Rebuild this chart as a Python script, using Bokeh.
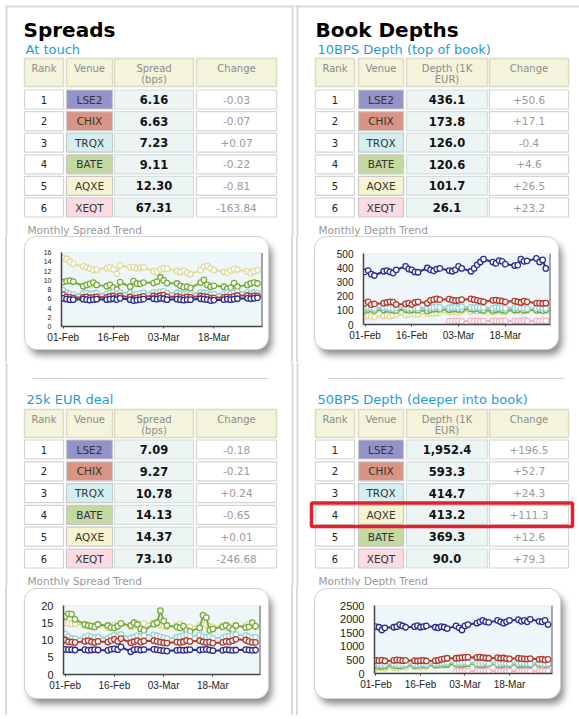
from bokeh.plotting import figure
from bokeh.models import Range1d, Span, FixedTicker, ColumnDataSource, Spacer
from bokeh.layouts import row, column
from bokeh.embed import file_html
from bokeh.resources import INLINE
from bokeh.core.properties import value

NAN = float("nan")
FONT = "DejaVu Sans"
AXFONT = "Liberation Sans"

# ---------------- table data ----------------
touch_venues = ["LSE2", "CHIX", "TRQX", "BATE", "AQXE", "XEQT"]
touch_spread = [6.16, 6.63, 7.23, 9.11, 12.30, 67.31]
touch_change = [-0.03, -0.07, 0.07, -0.22, -0.81, -163.84]

deal_venues = ["LSE2", "CHIX", "TRQX", "BATE", "AQXE", "XEQT"]
deal_spread = [7.09, 9.27, 10.78, 14.13, 14.37, 73.10]
deal_change = [-0.18, -0.21, 0.24, -0.65, 0.01, -246.68]

d10_venues = ["LSE2", "CHIX", "TRQX", "BATE", "AQXE", "XEQT"]
d10_depth = [436.1, 173.8, 126.0, 120.6, 101.7, 26.1]
d10_change = [50.6, 17.1, -0.4, 4.6, 26.5, 23.2]

d50_venues = ["LSE2", "CHIX", "TRQX", "AQXE", "BATE", "XEQT"]
d50_depth = [1952.4, 593.3, 414.7, 413.2, 369.3, 90.0]
d50_change = [196.5, 52.7, 24.3, 111.3, 12.6, 79.3]
d50_highlight = 3

spread_headers = ["Rank", "Venue", "Spread\n(bps)", "Change"]
depth_headers = ["Rank", "Venue", "Depth (1K\nEUR)", "Change"]

# ---------------- trend data (day offsets from 01-Feb, trading days) ----------------
days = [0, 1, 2, 3, 6, 7, 8, 9, 10, 13, 14, 15, 16, 17, 20, 21, 22, 23, 24, 27,
        28, 29, 30, 31, 34, 35, 36, 37, 38, 41, 42, 43, 44, 45, 48, 49, 50, 51, 52,
        55, 56, 57, 58]
tick_days = [0, 15, 30, 45]
tick_labels = ["01-Feb", "16-Feb", "03-Mar", "18-Mar"]

touch_lse2 = [6.1, 5.9, 5.8, 5.8, 5.9, 5.8, 5.7, 5.8, 5.9, 5.8, 5.9, 6.0, 5.8, 6.1, 5.8, 5.6, 5.7, 5.8, 5.9, 6.0,
              5.9, 6.1, 6.0, 5.8, 5.9, 5.8, 5.7, 5.8, 5.8, 6.0, 5.9, 5.8, 5.6, 5.7, 5.8, 5.9, 5.8, 5.9, 6.0,
              6.1, 6.0, 6.1, 6.2]
touch_chix = [6.9, 6.4, 6.3, 6.2, 6.3, 6.4, 6.2, 6.3, 6.4, 6.3, 6.5, 6.6, 6.3, 6.6, 6.4, 6.0, 6.2, 6.3, 6.5, 6.6,
              6.4, 6.7, 6.8, 6.4, 6.5, 6.3, 6.2, 6.4, 6.3, 6.6, 6.5, 6.4, 6.1, 6.2, 6.3, 6.4, 6.3, 6.5, 6.7,
              6.7, 6.5, 6.6, 6.6]
touch_trqx = [7.8, 7.3, 7.0, 6.9, 7.1, 7.2, 7.0, 7.1, 7.2, 7.0, 7.3, 7.4, 7.1, 7.4, 7.2, 6.8, 7.0, 7.1, 7.3, 7.4,
              7.2, 7.5, 7.6, 7.2, 7.3, 7.1, 6.9, 7.1, 7.0, 7.4, 7.3, 7.2, 6.9, 7.0, 7.1, 7.2, 7.1, 7.3, 7.5,
              7.4, 7.2, 7.3, 7.2]
touch_bate = [9.6, 9.8, 9.9, 9.7, 8.7, 9.0, 9.2, 9.5, 9.0, 8.7, 9.0, 8.4, 8.0, 9.6, 8.6, 9.8, 9.3, 9.2, 9.5, 9.4,
              9.7, 10.6, 10.0, 9.4, 9.3, 8.8, 8.5, 8.6, 8.3, 9.5, 10.1, 9.0, 8.6, 8.8, 8.6, 8.2, 8.4, 9.4, 8.6,
              9.0, 9.3, 9.5, 9.3]
touch_aqxe = [14.8, 14.6, 14.0, 13.5, 13.0, 12.8, 12.5, 12.2, 12.3, 12.6, 12.8, 12.4, 11.4, 13.2, 12.8, 12.9, 12.6,
              12.7, 12.8, 11.9, 11.8, 12.3, 12.6, 12.5, 12.0, 11.8, 12.1, 11.6, 11.3, 12.2, 12.9, 13.1, 12.6,
              12.2, 11.8, 11.6, 12.1, 12.4, 12.3, 11.9, 11.6, 11.9, 12.2]

d10_lse2 = [370, 380, 355, 345, 375, 380, 370, 362, 385, 410, 390, 385, 370, 368, 398, 385, 378, 390, 395, 380,
            375, 385, 410, 395, 375, 395, 420, 440, 460, 440, 430, 450, 445, 425, 415, 418, 460, 445, 448,
            465, 440, 455, 395]
d10_chix = [150, 160, 140, 145, 150, 155, 160, 158, 140, 145, 150, 140, 155, 160, 150, 170, 175, 180, 175, 178,
            172, 168, 170, 175, 180, 175, 170, 165, 160, 170, 172, 168, 165, 160, 165, 160, 155, 165, 160,
            150, 150, 148, 150]
d10_trqx = [115, 120, 118, 112, 118, 120, 115, 112, 118, 120, 115, 112, 118, 115, 118, 122, 120, 125, 120, 118,
            120, 122, 118, 125, 120, 118, 122, 120, 118, 115, 120, 118, 116, 114, 118, 120, 116, 114, 112,
            115, 118, 116, 114]
d10_bate = [100, 105, 110, 98, 102, 108, 105, 100, 98, 105, 100, 102, 106, 100, 95, 104, 108, 110, 106, 104,
            108, 110, 105, 106, 110, 108, 112, 104, 100, 98, 104, 108, 102, 98, 102, 104, 108, 100, 104,
            100, 104, 98, 102]
d10_aqxe = [55, 60, 58, 52, 60, 62, 58, 65, 70, 68, 72, 75, 70, 72, 75, 80, 78, 82, 85, 88,
            90, 92, 88, 95, 92, 98, 95, 100, 92, 88, 94, 96, 90, 92, 95, 98, 92, 96, 100,
            98, 96, 100, 102]
d10_xeqt = [NAN] * 19 + [22, 25, 24, 26, 23, 25, 24, 26, 22, 24, 26, 25, 23, 24, 27, 25, 24, 26, 28, 25,
                         26, 24, 27, 26]

deal_lse2 = [7.3, 7.2, 7.2, 7.1, 7.2, 7.0, 7.1, 7.2, 7.1, 7.0, 7.3, 7.4, 7.2, 8.0, 6.6, 7.2, 7.3, 7.1, 7.2, 7.3,
             7.2, 7.0, 6.9, 6.8, 7.0, 7.1, 7.0, 7.1, 7.2, 7.1, 7.2, 7.3, 7.1, 6.9, 7.0, 7.2, 7.1, 7.0, 7.1,
             7.2, 7.1, 7.0, 7.1]
deal_chix = [10.0, 9.5, 9.4, 9.3, 9.6, 9.8, 9.5, 9.3, 9.6, 9.4, 9.8, 10.2, 9.6, 10.4, 9.2, 9.5, 9.8, 9.4, 9.7,
             9.8, 9.6, 9.4, 9.2, 9.1, 9.4, 9.3, 9.5, 9.8, 9.6, 9.8, 9.5, 9.3, 9.4, 9.1, 9.3, 9.6, 9.5, 9.8,
             10.2, 10.0, 9.6, 9.3, 9.3]
deal_trqx = [11.8, 11.0, 10.5, 10.4, 10.8, 11.2, 10.9, 10.6, 10.8, 10.5, 11.0, 11.4, 11.0, 11.6, 10.6, 10.8,
             11.2, 10.9, 11.3, 11.5, 11.2, 10.9, 10.6, 10.4, 10.8, 10.9, 11.2, 11.5, 11.1, 11.4, 11.0, 10.8,
             10.9, 10.5, 10.7, 11.0, 11.1, 11.4, 11.6, 11.3, 11.0, 10.7, 10.8]
deal_bate = [16.8, 17.6, 17.5, 16.0, 14.5, 14.2, 14.0, 13.8, 14.5, 14.2, 13.6, 13.5, 14.0, 14.8, 14.2, 15.0,
             14.5, 13.2, 12.8, 14.6, 15.0, 18.5, 15.5, 14.2, 13.8, 13.5, 14.0, 12.8, 12.5, 13.5, 17.2, 16.5,
             12.8, 13.2, 13.8, 14.2, 13.5, 13.0, 14.2, 13.6, 13.8, 15.0, 14.0]
deal_aqxe = [15.0, 14.8, 14.6, 14.8, 14.2, 14.0, 13.8, 14.2, 14.5, 13.6, 13.8, 14.4, 14.0, 14.6, 13.8, 14.2,
             14.6, 14.4, 14.8, 15.0, 14.6, 14.2, 14.0, 13.8, 14.2, 14.6, 14.0, 13.6, 13.8, 14.2, 14.6, 14.4,
             14.0, 13.8, 14.2, 14.4, 14.0, 13.6, 13.9, 14.2, 14.6, 14.2, 13.8]

d50_lse2 = [1720, 1700, 1600, 1680, 1700, 1720, 1800, 1750, 1700, 1720, 1760, 1700, 1720, 1750, 1700, 1680,
            1720, 1700, 1650, 1750, 1680, 1600, 1750, 1800, 1850, 1900, 1950, 1900, 1880, 1950, 1900, 1850,
            1900, 1950, 1980, 1920, 1950, 1900, 1990, 1920, 1900, 1950, 1800]
d50_chix = [480, 470, 490, 460, 480, 500, 490, 470, 480, 470, 460, 470, 480, 460, 470, 480, 520, 540, 560, 560,
            570, 580, 590, 600, 590, 600, 580, 570, 560, 580, 560, 570, 550, 540, 560, 550, 540, 530, 550,
            520, 530, 500, 520]
d50_trqx = [330, 340, 320, 330, 340, 330, 320, 330, 350, 340, 330, 350, 360, 340, 360, 370, 380, 390, 400, 380,
            390, 400, 410, 400, 380, 370, 390, 400, 380, 370, 380, 390, 380, 370, 380, 390, 380, 370, 360,
            380, 370, 360, 370]
d50_bate = [280, 270, 260, 270, 300, 290, 280, 300, 310, 290, 300, 310, 320, 300, 310, 330, 350, 340, 330, 350,
            340, 330, 350, 360, 340, 330, 320, 340, 350, 330, 320, 340, 350, 330, 320, 330, 340, 330, 320,
            340, 350, 330, 340]
d50_aqxe = [200, 220, 210, 190, 230, 220, 240, 250, 230, 240, 260, 250, 270, 260, 280, 290, 300, 310, 320, 330,
            340, 350, 360, 370, 380, 360, 370, 390, 380, 370, 380, 390, 400, 380, 390, 400, 380, 410, 400,
            390, 410, 400, 410]
d50_xeqt = [NAN] * 19 + [80, 85, 90, 88, 92, 86, 90, 94, 88, 90, 92, 88, 86, 90, 94, 90, 88, 92, 90, 86,
                         90, 94, 92, 90]

SWATCH = {"LSE2": "#9393c9", "CHIX": "#d99483", "TRQX": "#d5eef0", "BATE": "#c4d9a2",
          "AQXE": "#f7f4d2", "XEQT": "#fcdbe2"}
LINE = {"LSE2": "#2e2e92", "CHIX": "#b53a2c", "TRQX": "#9ad3d8", "BATE": "#78ad3c",
        "AQXE": "#e0dc9c", "XEQT": "#f2b6c4"}
DRAW_ORDER = ["XEQT", "AQXE", "BATE", "TRQX", "CHIX", "LSE2"]
BORDER = "#dadada"


def txt(p, xs, ys, texts, size, color, bold=False, align="center", font=FONT):
    p.text(x=xs, y=ys, text=texts, text_font=value(font), text_font_size=value(f"{size}px"),
           text_color=color, text_font_style="bold" if bold else "normal",
           text_align=align, text_baseline="middle")


def table_fig(x0, y0, w, h):
    p = figure(width=w, height=h, x_range=Range1d(x0, x0 + w), y_range=Range1d(y0 + h, y0),
               x_axis_type=None, y_axis_type=None, output_backend="svg", toolbar_location=None,
               min_border=0, outline_line_color=None, border_fill_color="white",
               background_fill_color="white", frame_align=False)
    return p


def draw_table(p, cols, head_top, row_c0, pitch, headers, venues, vals, chgs, vfmt, cfmt, highlight=None):
    L = [c[0] for c in cols]
    R = [c[1] for c in cols]
    p.quad(left=L, right=R, top=[head_top] * 4, bottom=[head_top + 28] * 4,
           fill_color="#f4f3dc", line_color="#dcdbc2", line_width=1.5)
    for j, hd in enumerate(headers):
        parts = hd.split("\n")
        xc = (L[j] + R[j]) / 2
        txt(p, [xc] * len(parts), [head_top + 10 + 11 * k for k in range(len(parts))], parts, 10, "#8c8c8c")
    n = len(venues)
    cy = [row_c0 + pitch * i for i in range(n)]
    top = [c - 9.5 for c in cy]
    bot = [c + 9.5 for c in cy]
    fills = [["white"] * n, [SWATCH[v] for v in venues], ["#ecf4f4"] * n, ["white"] * n]
    lines = ["#d4d4d4", "#c8c8c8", "#d3dede", "#d4d4d4"]
    for j in range(4):
        p.quad(left=[L[j]] * n, right=[R[j]] * n, top=top, bottom=bot,
               fill_color=fills[j], line_color=lines[j], line_width=1.2)
    xc = [(L[j] + R[j]) / 2 for j in range(4)]
    txt(p, [xc[0]] * n, cy, [str(i + 1) for i in range(n)], 10, "#222222")
    txt(p, [xc[1]] * n, cy, venues, 10.5, "#333333")
    txt(p, [xc[2]] * n, cy, [vfmt(v) for v in vals], 11.5, "#111111", bold=True)
    txt(p, [xc[3]] * n, cy, [cfmt(v) for v in chgs], 10.5, "#9a9a9a")
    if highlight is not None:
        c = cy[highlight]
        p.quad(left=[L[0] - 4], right=[R[3] + 4], top=[c - 12], bottom=[c + 11.5],
               fill_color=None, line_color="#e3202b", line_width=3.5)


BOX_STYLE = {"border-radius": "12px", "overflow": "hidden",
             "box-shadow": "0 0 0 1px #d2d2d2, 4px 6px 7px rgba(0,0,0,0.45)"}


def chart_fig(box, frame, ymax, ystep, ysize, series):
    bl, bt, br, bb = box
    fl, ft, fr, fb = frame
    p = figure(width=br - bl, height=bb - bt, x_range=Range1d(-0.5, 59.5), y_range=Range1d(0, ymax),
               output_backend="svg", toolbar_location=None,
               min_border_left=fl - bl, min_border_right=br - fr,
               min_border_top=ft - bt, min_border_bottom=bb - fb,
               outline_line_color=None, background_fill_color="#eef6f9", border_fill_color="white",
               frame_align=False, styles=BOX_STYLE)
    p.grid.visible = False

    for name in DRAW_ORDER:
        if name not in series:
            continue
        src = ColumnDataSource(dict(x=days, y=series[name]))
        p.line("x", "y", source=src, line_color=LINE[name], line_width=2)
        p.scatter("x", "y", source=src, size=5.5, marker="circle", fill_color="white",
                  line_color=LINE[name], line_width=1.3)

    p.add_layout(Span(location=ymax, dimension="width", line_color="#8fcfe4", line_dash="1 2",
                      line_width=1))
    p.add_layout(Span(location=59.5, dimension="height", line_color="#555555", line_width=2))

    yax = p.yaxis[0]
    yax.ticker = FixedTicker(ticks=list(range(0, ymax + 1, ystep)))
    yax.major_label_text_font = AXFONT
    yax.major_label_text_font_size = f"{ysize}px"
    yax.major_label_text_color = "#222222"
    yax.axis_line_color = "#444444"
    yax.axis_line_width = 1.5
    yax.major_tick_line_color = None
    yax.minor_tick_line_color = None
    yax.major_label_standoff = 4

    xax = p.xaxis[0]
    xax.ticker = FixedTicker(ticks=tick_days)
    xax.major_label_overrides = {d: lab for d, lab in zip(tick_days, tick_labels)}
    xax.major_label_text_font = AXFONT
    xax.major_label_text_font_size = "10px"
    xax.major_label_text_color = "#222222"
    xax.axis_line_color = "#444444"
    xax.axis_line_width = 1.5
    xax.major_tick_line_color = "#444444"
    xax.major_tick_in = 0
    xax.major_tick_out = 2
    xax.minor_tick_line_color = None
    xax.major_label_standoff = 3
    return p


def gap(w, h, color=None):
    if color is None:
        return Spacer(width=w, height=h)
    return Spacer(width=w, height=h, styles={"background-color": color})


def chart_strip(x0, x1, y0, y1, box, chart, vlines):
    """Row holding the rounded chart box plus panel border lines."""
    bl, bt, br, bb = box
    items = []
    cur = x0
    marks = sorted([(v, "line") for v in vlines] + [(bl, "chart")])
    for pos, kind in marks:
        if pos > cur:
            items.append(gap(pos - cur, y1 - y0))
        if kind == "line":
            items.append(gap(2, y1 - y0, BORDER))
            cur = pos + 2
        else:
            items.append(column(gap(br - bl, bt - y0), chart, gap(br - bl, y1 - bb), spacing=0))
            cur = br
    if x1 > cur:
        items.append(gap(x1 - cur, y1 - y0))
    return row(*items, spacing=0)


fmt2 = lambda v: f"{v:,.2f}"
fmt2s = lambda v: f"{v:+.2f}"
fmt1 = lambda v: f"{v:,.1f}"
fmt1s = lambda v: f"{v:+.1f}"

LX0, LW = 0, 294
RX0, RW = 294, 285
Y_T, H_T = 0, 236
Y_C1, H_C1 = 236, 126
Y_B, H_B = 362, 224
Y_C2, H_C2 = 586, 129

colsL = [(24, 63), (66, 112), (114, 193), (196, 276)]
colsR = [(315, 354), (358, 403), (406, 487), (489, 568)]

# ---- top-left: Spreads / At touch ----
tl = table_fig(LX0, Y_T, LW, H_T)
tl.quad(left=[5], right=[LX0 + LW], top=[5], bottom=[7], fill_color=BORDER, line_color=None)
tl.quad(left=[5, 291], right=[7, 293], top=[5, 5], bottom=[Y_T + H_T] * 2,
        fill_color=BORDER, line_color=None)
txt(tl, [23], [29], ["Spreads"], 20, "#000000", bold=True, align="left")
txt(tl, [25], [49], ["At touch"], 13, "#1b9ddb", align="left")
draw_table(tl, colsL, 58, 99, 21.6, spread_headers, touch_venues, touch_spread, touch_change, fmt2, fmt2s)
txt(tl, [27], [229], ["Monthly Spread Trend"], 10.5, "#999999", align="left")

# ---- top-right: Book Depths / 10BPS ----
tr = table_fig(RX0, Y_T, RW, H_T)
tr.quad(left=[RX0], right=[RX0 + RW], top=[5], bottom=[7], fill_color=BORDER, line_color=None)
tr.quad(left=[296], right=[298], top=[5], bottom=[Y_T + H_T], fill_color=BORDER, line_color=None)
txt(tr, [315], [29], ["Book Depths"], 20, "#000000", bold=True, align="left")
txt(tr, [317], [49], ["10BPS Depth (top of book)"], 13, "#1b9ddb", align="left")
draw_table(tr, colsR, 58, 99, 21.6, depth_headers, d10_venues, d10_depth, d10_change, fmt1, fmt1s)
txt(tr, [318], [229], ["Monthly Depth Trend"], 10.5, "#999999", align="left")

# ---- top charts ----
box_tl = (25, 237, 268, 349)
box_tr = (315, 237, 558, 349)
tlc = chart_fig(box_tl, (61, 252, 262, 326), 16, 2, 7,
                {"LSE2": touch_lse2, "CHIX": touch_chix, "TRQX": touch_trqx, "BATE": touch_bate,
                 "AQXE": touch_aqxe})
trc = chart_fig(box_tr, (363, 253, 550, 324), 500, 100, 10,
                {"LSE2": d10_lse2, "CHIX": d10_chix, "TRQX": d10_trqx, "BATE": d10_bate,
                 "AQXE": d10_aqxe, "XEQT": d10_xeqt})

# ---- bottom-left: 25k EUR deal ----
bl = table_fig(LX0, Y_B, LW, H_B)
bl.quad(left=[5, 291], right=[7, 293], top=[Y_B, Y_B], bottom=[Y_B + H_B] * 2,
        fill_color=BORDER, line_color=None)
bl.segment(x0=[32], y0=[378], x1=[268], y1=[378], line_color="#cfcfcf", line_width=1.2)
txt(bl, [26], [399], ["25k EUR deal"], 13, "#1b9ddb", align="left")
draw_table(bl, colsL, 409, 449, 21.8, spread_headers, deal_venues, deal_spread, deal_change, fmt2, fmt2s)
txt(bl, [27], [580], ["Monthly Spread Trend"], 10.5, "#999999", align="left")

# ---- bottom-right: 50BPS ----
br = table_fig(RX0, Y_B, RW, H_B)
br.quad(left=[296], right=[298], top=[Y_B], bottom=[Y_B + H_B], fill_color=BORDER, line_color=None)
br.segment(x0=[327], y0=[378], x1=[563], y1=[378], line_color="#cfcfcf", line_width=1.2)
txt(br, [317], [399], ["50BPS Depth (deeper into book)"], 13, "#1b9ddb", align="left")
draw_table(br, colsR, 409, 449, 21.8, depth_headers, d50_venues, d50_depth, d50_change, fmt1, fmt1s,
           highlight=d50_highlight)
txt(br, [318], [580], ["Monthly Depth Trend"], 10.5, "#999999", align="left")

# ---- bottom charts ----
box_bl = (25, 589, 268, 698)
box_br = (315, 589, 560, 698)
blc = chart_fig(box_bl, (63, 605, 260, 674), 20, 5, 11,
                {"LSE2": deal_lse2, "CHIX": deal_chix, "TRQX": deal_trqx, "BATE": deal_bate,
                 "AQXE": deal_aqxe})
brc = chart_fig(box_br, (374, 605, 552, 673), 2500, 500, 11,
                {"LSE2": d50_lse2, "CHIX": d50_chix, "TRQX": d50_trqx, "BATE": d50_bate,
                 "AQXE": d50_aqxe, "XEQT": d50_xeqt})

strip_tl = chart_strip(LX0, LX0 + LW, Y_C1, Y_C1 + H_C1, box_tl, tlc, [5, 291])
strip_tr = chart_strip(RX0, RX0 + RW, Y_C1, Y_C1 + H_C1, box_tr, trc, [296])
strip_bl = chart_strip(LX0, LX0 + LW, Y_C2, Y_C2 + H_C2, box_bl, blc, [5, 291])
strip_br = chart_strip(RX0, RX0 + RW, Y_C2, Y_C2 + H_C2, box_br, brc, [296])

layout = row(column(tl, strip_tl, bl, strip_bl, spacing=0),
             column(tr, strip_tr, br, strip_br, spacing=0), spacing=0)
open("out.html", "w").write(file_html(layout, INLINE))
